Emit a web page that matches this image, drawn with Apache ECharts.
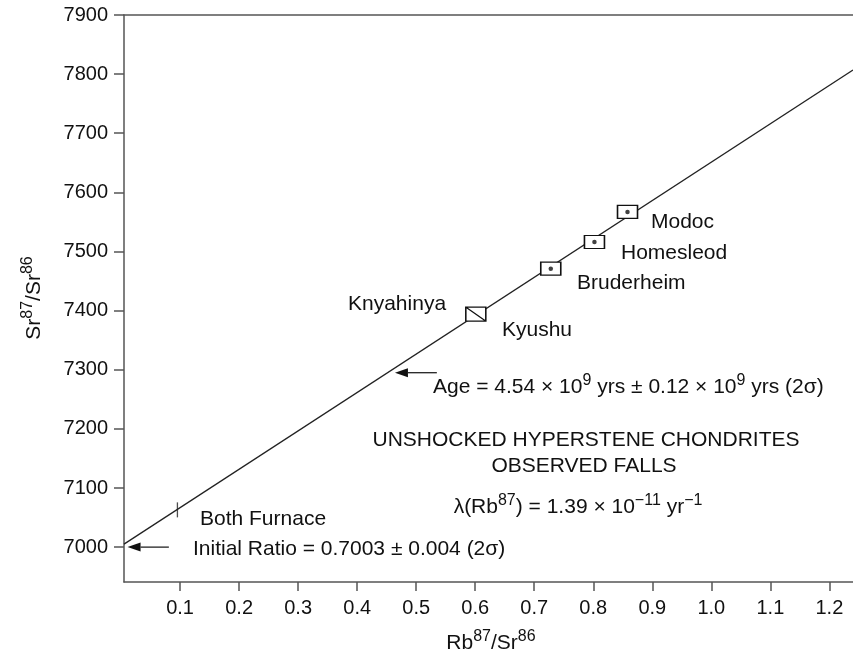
<!DOCTYPE html>
<html>
<head>
<meta charset="utf-8">
<script src="https://cdn.jsdelivr.net/npm/echarts@6/dist/echarts.min.js"></script>
<style>html,body{margin:0;padding:0;background:#fff}#c{width:853px;height:657px}</style>
</head>
<body>
<div id="c"></div>
<script>
// ---- data ----
var xTicks = [0.1, 0.2, 0.3, 0.4, 0.5, 0.6, 0.7, 0.8, 0.9, 1.0, 1.1, 1.2];
var yTicks = [7000, 7100, 7200, 7300, 7400, 7500, 7600, 7700, 7800, 7900];
var sampleNames = ['Modoc', 'Homesleod', 'Bruderheim'];
var sampleX = [0.858, 0.802, 0.728];
var sampleY = [7567, 7516, 7471];
var kyushuX = [0.601];
var kyushuY = [7394];
var furnaceX = [0.0955];
var furnaceY = [7063];
var isochronX = [0.005, 1.240];
var isochronY = [7005, 7807];
var arrowInitial = [[0.081, 7000], [0.011, 7000]];
var arrowAge = [[0.535, 7295], [0.464, 7295]];

var FONT = '"Liberation Sans", Arial, Helvetica, sans-serif';
var chart = echarts.init(document.getElementById('c'));
var axisCol = '#555';

var option = {
  animation: false,
  grid: { left: 124, top: 15, right: 0, bottom: 75, show: false },
  xAxis: [{
    type: 'value', min: 0.005, max: 1.240,
    splitLine: { show: false },
    axisLine: { lineStyle: { color: axisCol, width: 1.5 } },
    axisTick: { show: true, length: 9, lineStyle: { color: axisCol, width: 1.5 }, customValues: xTicks },
    axisLabel: { customValues: xTicks, margin: 16, fontFamily: FONT, fontSize: 20, color: '#111',
      formatter: function (v) { return v.toFixed(1); } }
  }, {
    type: 'value', position: 'top', min: 0.005, max: 1.240,
    splitLine: { show: false },
    axisLine: { show: true, lineStyle: { color: axisCol, width: 1.5 } },
    axisTick: { show: false }, axisLabel: { show: false }
  }],
  yAxis: {
    type: 'value', min: 6941, max: 7900,
    splitLine: { show: false },
    axisLine: { lineStyle: { color: axisCol, width: 1.5 } },
    axisTick: { show: true, length: 10, lineStyle: { color: axisCol, width: 1.5 }, customValues: yTicks },
    axisLabel: { customValues: yTicks, margin: 16, fontFamily: FONT, fontSize: 20, color: '#111',
      formatter: function (v) { return String(v); } }
  },
  series: [
    { type: 'line', data: isochronX.map(function (x, i) { return [x, isochronY[i]]; }),
      symbol: 'none', lineStyle: { color: '#222', width: 1.3 }, z: 1 },
    { type: 'scatter', data: sampleX.map(function (x, i) { return [x, sampleY[i]]; }),
      symbol: 'rect', symbolSize: [20, 13],
      itemStyle: { color: '#fff', borderColor: '#111', borderWidth: 1.3, opacity: 1 }, z: 3 },
    { type: 'scatter', data: sampleX.map(function (x, i) { return [x, sampleY[i]]; }),
      symbol: 'circle', symbolSize: 4.5, itemStyle: { color: '#111' }, z: 4 },
    { type: 'scatter', data: kyushuX.map(function (x, i) { return [x, kyushuY[i]]; }),
      symbol: 'path://M0,0L20,0L20,14L0,14ZM0,0L20,14', symbolSize: [20, 14], symbolKeepAspect: false,
      itemStyle: { color: '#fff', borderColor: '#111', borderWidth: 1.3, opacity: 1 }, z: 3 },
    { type: 'scatter', data: furnaceX.map(function (x, i) { return [x, furnaceY[i]]; }),
      symbol: 'rect', symbolSize: [1.3, 15], itemStyle: { color: '#222' }, z: 3 }
  ]
};
chart.setOption(option);

function txt(x, y, text, align, extra) {
  var el = {
    type: 'text', x: x, y: y, silent: true,
    style: {
      text: text, fill: '#111', fontFamily: FONT, fontSize: 21, lineHeight: 28,
      textAlign: align || 'left', textVerticalAlign: 'middle',
      rich: {
        n: { fontFamily: FONT, fontSize: 21, lineHeight: 28, fill: '#111' },
        sup: { fontFamily: FONT, fontSize: 16, lineHeight: 16, verticalAlign: 'top', fill: '#111' }
      }
    }
  };
  if (extra) for (var k in extra) el[k] = extra[k];
  return el;
}

function arrow(seg) {
  var p0 = chart.convertToPixel({ gridIndex: 0 }, seg[0]);
  var p1 = chart.convertToPixel({ gridIndex: 0 }, seg[1]);
  var dx = p1[0] - p0[0], dy = p1[1] - p0[1];
  var len = Math.sqrt(dx * dx + dy * dy), ux = dx / len, uy = dy / len;
  var hl = 13, hw = 4.5;
  var bx = p1[0] - ux * hl, by = p1[1] - uy * hl;
  return [
    { type: 'line', silent: true, shape: { x1: p0[0], y1: p0[1], x2: bx, y2: by }, style: { stroke: '#222', lineWidth: 1.3 } },
    { type: 'polygon', silent: true, shape: { points: [[p1[0], p1[1]], [bx - uy * hw, by + ux * hw], [bx + uy * hw, by - ux * hw]] }, style: { fill: '#111' } }
  ];
}

var graphics = [
  txt(651, 222, 'Modoc'),
  txt(621, 253, 'Homesleod'),
  txt(577, 283, 'Bruderheim'),
  txt(348, 304, 'Knyahinya'),
  txt(502, 330, 'Kyushu'),
  txt(433, 387, '{n|Age = 4.54 × 10}{sup|9}{n| yrs ± 0.12 × 10}{sup|9}{n| yrs (2σ)}'),
  txt(586, 440, 'UNSHOCKED HYPERSTENE CHONDRITES', 'center'),
  txt(584, 466, 'OBSERVED FALLS', 'center'),
  txt(578, 507, '{n|λ(Rb}{sup|87}{n|) = 1.39 × 10}{sup|−11}{n| yr}{sup|−1}', 'center'),
  txt(200, 519, 'Both Furnace'),
  txt(193, 549, 'Initial Ratio = 0.7003 ± 0.004 (2σ)'),
  txt(491, 643, '{n|Rb}{sup|87}{n|/Sr}{sup|86}', 'center'),
  txt(34, 298, '{n|Sr}{sup|87}{n|/Sr}{sup|86}', 'center', { rotation: Math.PI / 2 })
].concat(arrow(arrowInitial)).concat(arrow(arrowAge));

chart.setOption({ graphic: graphics });
</script>
</body>
</html>
